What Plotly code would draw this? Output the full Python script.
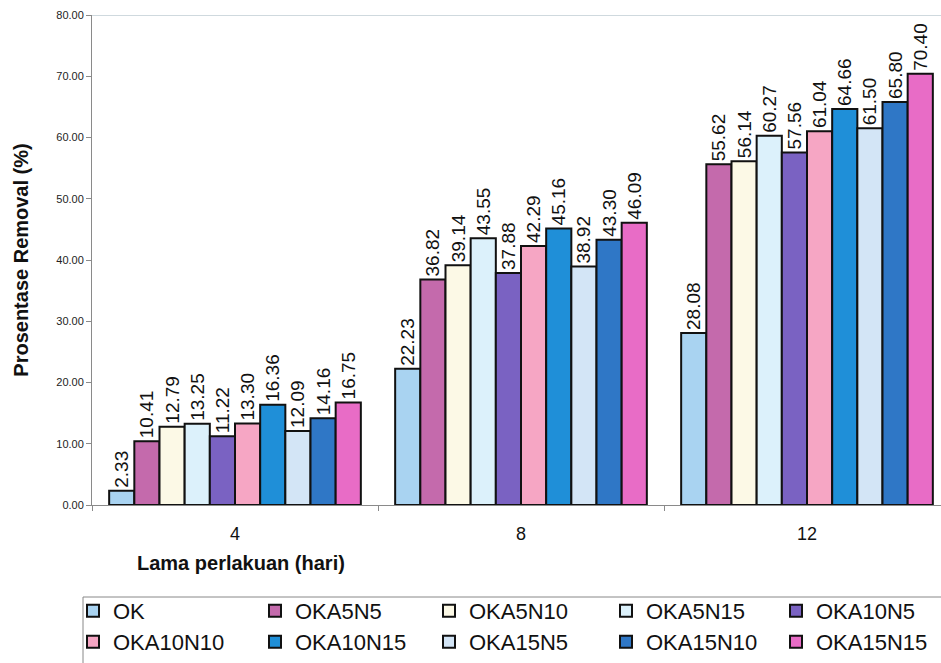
import plotly.graph_objects as go

# Treatment duration groups (days)
days = ["4", "8", "12"]

# Removal percentage per treatment, one value per duration group
series_names = ["OK", "OKA5N5", "OKA5N10", "OKA5N15", "OKA10N5",
                "OKA10N10", "OKA10N15", "OKA15N5", "OKA15N10", "OKA15N15"]
ok = [2.33, 22.23, 28.08]
oka5n5 = [10.41, 36.82, 55.62]
oka5n10 = [12.79, 39.14, 56.14]
oka5n15 = [13.25, 43.55, 60.27]
oka10n5 = [11.22, 37.88, 57.56]
oka10n10 = [13.30, 42.29, 61.04]
oka10n15 = [16.36, 45.16, 64.66]
oka15n5 = [12.09, 38.92, 61.50]
oka15n10 = [14.16, 43.30, 65.80]
oka15n15 = [16.75, 46.09, 70.40]
values = [ok, oka5n5, oka5n10, oka5n15, oka10n5,
          oka10n10, oka10n15, oka15n5, oka15n10, oka15n15]

colors = ["#a9d3f1", "#c46aac", "#fcf9e6", "#dcf1fb", "#7a62c2",
          "#f6a6c4", "#1f8fd8", "#d3e5f6", "#2f77c6", "#e86cc6"]

FONT = "Arial, Liberation Sans, sans-serif"

W, H = 941, 663
ML, MR, MT, MB = 92, 0, 15, 0
PW = W - ML - MR
PH = H - MT - MB
PLOT_BOTTOM = 505  # pixel row of the value axis zero line


def py(ypx):
    """paper y fraction for a pixel row"""
    return (H - MB - ypx) / PH


def px(xpx):
    """paper x fraction for a pixel column"""
    return (xpx - ML) / PW


# legend grid: 5 columns x 2 rows, one single-entry legend per cell
legend_col_px = [73, 255, 429, 606, 776]
legend_row_top_px = [590, 621]
legend_ids = ["legend"] + [f"legend{k}" for k in range(2, 11)]

fig = go.Figure()
for i, (name, vals, col) in enumerate(zip(series_names, values, colors)):
    fig.add_trace(go.Bar(
        name=name, x=days, y=vals,
        marker=dict(color=col, line=dict(color="#111111", width=2)),
        texttemplate="%{y:.2f}", textposition="outside", textangle=-90,
        textfont=dict(family=FONT, size=19, color="#111111"),
        constraintext="none", cliponaxis=False,
        legend=legend_ids[i],
    ))

legend_common = dict(
    orientation="v", xanchor="left", yanchor="top",
    bgcolor="rgba(0,0,0,0)", borderwidth=0,
    font=dict(family=FONT, size=22, color="#111111"),
    itemwidth=30,
)

fig.update_layout(
    width=W, height=H,
    margin=dict(l=ML, r=MR, t=MT, b=MB, pad=0),
    paper_bgcolor="white", plot_bgcolor="white",
    barmode="group", bargap=0.12, bargroupgap=0,
    font=dict(family=FONT, color="#111111"),
    xaxis=dict(
        type="category", range=[-0.5, -0.5 + PW / 286.0],
        showline=True, linecolor="#8a8a8a", linewidth=1,
        ticks="outside", tickson="boundaries", ticklen=5, tickcolor="#8a8a8a",
        tickfont=dict(size=18, color="#111111"), ticklabelstandoff=12,
        showgrid=False, zeroline=False, automargin=False,
    ),
    yaxis=dict(
        domain=[py(PLOT_BOTTOM), 1],
        range=[0, 80], dtick=10, tickformat=".2f",
        showline=True, linecolor="#8a8a8a", linewidth=1,
        ticks="outside", ticklen=5, tickcolor="#8a8a8a",
        tickfont=dict(size=11, color="#222222"),
        showgrid=False, zeroline=False, automargin=False,
        title=dict(text="<b>Prosentase Removal (%)</b>",
                   font=dict(size=20, color="#111111"), standoff=22),
    ),
    showlegend=True,
)
for i, lid in enumerate(legend_ids):
    fig.update_layout({lid: dict(legend_common,
                                 x=px(legend_col_px[i % 5]),
                                 y=py(legend_row_top_px[i // 5]))})

# plot-area top border
fig.add_shape(type="line", xref="paper", yref="y", x0=0, x1=1, y0=80, y1=80,
              line=dict(color="#9fb4bd", width=1))

# legend frame
fig.add_shape(type="rect", xref="paper", yref="paper",
              x0=px(83), x1=1.02, y0=py(597), y1=py(672),
              line=dict(color="#888888", width=1), fillcolor="rgba(0,0,0,0)",
              layer="below")

fig.add_annotation(
    text="<b>Lama perlakuan (hari)</b>", xref="paper", yref="paper",
    x=px(135), y=py(563), xanchor="left", yanchor="middle",
    showarrow=False, font=dict(size=20, color="#111111"),
)

fig.write_html("out.html")
